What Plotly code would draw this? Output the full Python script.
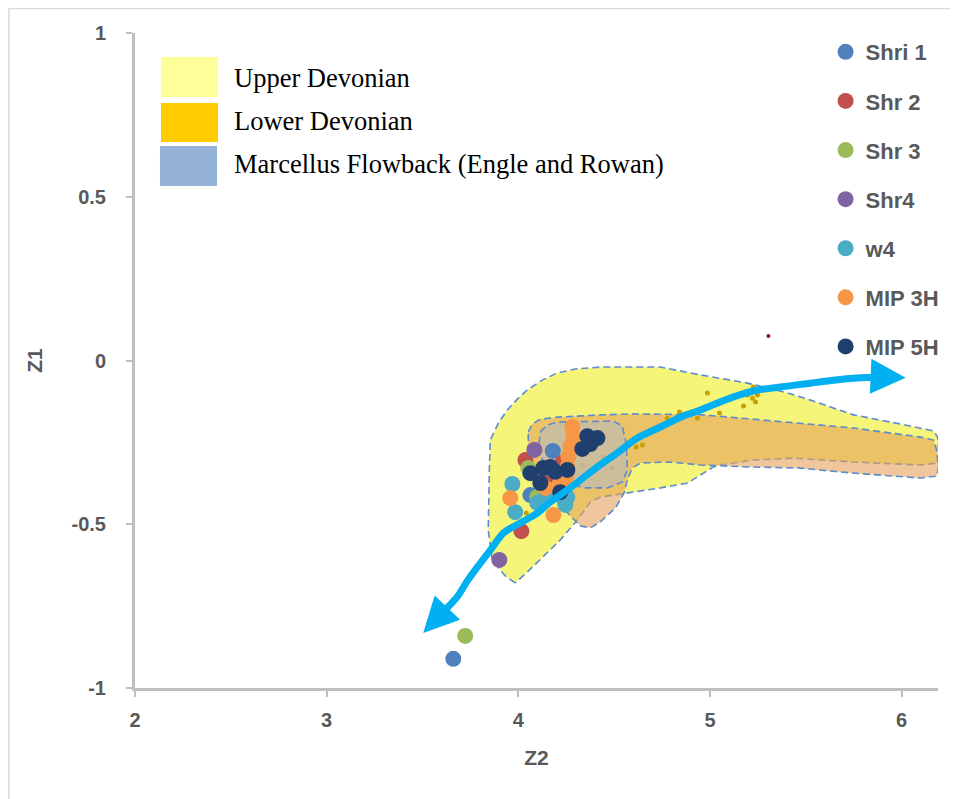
import plotly.graph_objects as go

# ---------------- data (Z2 = x, Z1 = y) ----------------
series_names = ["Shri 1", "Shr 2", "Shr 3", "Shr4", "w4", "MIP 3H", "MIP 5H"]
series_colors = ["#4F81BD", "#C0504D", "#9BBB59", "#8064A2", "#4BACC6", "#F79646", "#1F3F6E"]

shri1_x = [3.661, 4.180, 4.063]
shri1_y = [-0.911, -0.276, -0.411]
shr2_x = [4.016, 4.037, 4.230, 4.141]
shr2_y = [-0.521, -0.304, -0.313, -0.359]
shr3_x = [3.723, 4.052, 4.099]
shr3_y = [-0.841, -0.328, -0.417]
shr4_x = [3.901, 4.084]
shr4_y = [-0.609, -0.273]
w4_x = [3.969, 3.984, 4.099, 4.204, 4.256, 4.245, 4.141]
w4_y = [-0.377, -0.463, -0.435, -0.405, -0.417, -0.441, -0.417]
mip3h_x = [4.282, 4.287, 4.272, 4.261, 4.256, 4.251, 4.219, 4.183, 3.958, 4.141]
mip3h_y = [-0.203, -0.234, -0.264, -0.295, -0.325, -0.356, -0.371, -0.472, -0.420, -0.389]
mip5h_x = [4.360, 4.413, 4.334, 4.376, 4.167, 4.256, 4.063, 4.115, 4.219, 4.193, 4.131]
mip5h_y = [-0.231, -0.237, -0.270, -0.255, -0.325, -0.334, -0.344, -0.374, -0.402, -0.340, -0.328]

# small background samples
gold_x = [4.987, 4.841, 4.778, 4.935, 5.050, 5.175, 5.211, 5.227, 5.248, 5.222, 5.238, 5.196, 5.253, 4.616, 4.648, 4.042]
gold_y = [-0.099, -0.157, -0.176, -0.176, -0.160, -0.139, -0.096, -0.081, -0.105, -0.115, -0.127, -0.105, -0.090, -0.264, -0.258, -0.466]
grey_x = [4.334, 4.491, 4.444]
grey_y = [-0.319, -0.328, -0.295]
red_small_x = [5.305, 3.723]
red_small_y = [0.075, -0.689]

# field outlines
upper_dev_x = [3.984, 3.932, 3.864, 3.843, 3.849, 3.854, 3.896, 3.943, 4.000, 4.047, 4.125, 4.204, 4.298, 4.428,
               4.742, 4.950, 5.196, 5.405, 5.525, 5.749, 5.995, 6.167, 6.188, 6.193, 6.188, 6.099, 5.749, 5.436,
               5.227, 5.055, 5.018, 4.883, 4.742, 4.569, 4.428, 4.376, 4.308, 4.219, 4.115, 4.047, 3.984]
upper_dev_y = [-0.679, -0.658, -0.609, -0.518, -0.334, -0.243, -0.191, -0.151, -0.115, -0.090, -0.060, -0.038,
               -0.026, -0.020, -0.020, -0.044, -0.069, -0.099, -0.121, -0.166, -0.194, -0.215, -0.234, -0.273,
               -0.313, -0.319, -0.310, -0.298, -0.304, -0.319, -0.325, -0.374, -0.389, -0.405, -0.417, -0.432,
               -0.487, -0.548, -0.609, -0.646, -0.679]
lower_dev_x = [4.052, 4.073, 4.115, 4.204, 4.428, 4.601, 4.966, 5.405, 5.749, 6.099, 6.167, 6.183, 6.193, 6.183,
               6.099, 5.749, 5.457, 5.196, 5.018, 4.950, 4.794, 4.637, 4.595, 4.569, 4.554, 4.507, 4.428, 4.376,
               4.324, 4.282, 4.219, 4.141, 4.073, 4.052, 4.052]
lower_dev_y = [-0.218, -0.194, -0.179, -0.173, -0.166, -0.163, -0.166, -0.188, -0.206, -0.234, -0.243, -0.273,
               -0.328, -0.353, -0.359, -0.344, -0.328, -0.325, -0.322, -0.319, -0.310, -0.313, -0.328, -0.365,
               -0.402, -0.450, -0.493, -0.511, -0.505, -0.481, -0.441, -0.395, -0.334, -0.273, -0.218]
flowback_x = [4.115, 4.151, 4.204, 4.496, 4.543, 4.564, 4.569, 4.543, 4.465, 4.339, 4.245, 4.157, 4.104, 4.115]
flowback_y = [-0.218, -0.197, -0.188, -0.185, -0.200, -0.258, -0.334, -0.371, -0.389, -0.389, -0.371, -0.334,
              -0.279, -0.218]

# trend arrow
trend_x = [3.530, 3.608, 3.681, 3.734, 3.786, 3.854, 3.922, 4.010, 4.099, 4.167, 4.256, 4.324, 4.413, 4.517,
           4.621, 4.742, 4.846, 4.950, 5.123, 5.248, 5.368, 5.645, 5.786, 5.906, 5.960]
trend_y = [-0.811, -0.768, -0.722, -0.673, -0.631, -0.579, -0.527, -0.496, -0.466, -0.432, -0.395, -0.365,
           -0.325, -0.282, -0.237, -0.203, -0.173, -0.151, -0.111, -0.090, -0.081, -0.060, -0.053, -0.050, -0.052]
trend_start_tip = (3.504, -0.832)
trend_end_tip = (6.021, -0.053)

field_names = ["Upper Devonian", "Lower Devonian", "Marcellus Flowback (Engle and Rowan)"]
field_key_colors = ["#FFFF99", "#FFCC00", "#95B3D7"]

x_tickvals = [2, 3, 4, 5, 6]
x_ticktext = ["2", "3", "4", "5", "6"]
y_tickvals = [1, 0.5, 0, -0.5, -1]
y_ticktext = ["1", "0.5", "0", "-0.5", "-1"]

# ---------------- figure ----------------
GREY = "#595959"
AXIS = "#BFBFBF"
FONT = "Liberation Sans, Arial, sans-serif"
border_style = dict(color="#5B8BD0", width=1.6, dash="7px,4px")

fig = go.Figure()

fig.add_trace(go.Scatter(x=upper_dev_x, y=upper_dev_y, mode="lines", fill="toself",
                         fillcolor="rgb(245,245,122)", line=border_style,
                         showlegend=False, hoverinfo="skip"))
fig.add_trace(go.Scatter(x=lower_dev_x, y=lower_dev_y, mode="lines", fill="toself",
                         fillcolor="rgba(230,160,90,0.6)", line=border_style,
                         showlegend=False, hoverinfo="skip"))
fig.add_trace(go.Scatter(x=flowback_x, y=flowback_y, mode="lines", fill="toself",
                         fillcolor="rgba(180,188,198,0.55)", line=border_style,
                         showlegend=False, hoverinfo="skip"))

fig.add_trace(go.Scatter(x=gold_x, y=gold_y, mode="markers",
                         marker=dict(size=5, color="#C9A000"), showlegend=False, hoverinfo="skip"))
fig.add_trace(go.Scatter(x=grey_x, y=grey_y, mode="markers",
                         marker=dict(size=5, color="#C2B28A"), showlegend=False, hoverinfo="skip"))
fig.add_trace(go.Scatter(x=red_small_x, y=red_small_y, mode="markers",
                         marker=dict(size=4, color="#8B1A1A"), showlegend=False, hoverinfo="skip"))

series_x = [shri1_x, shr2_x, shr3_x, shr4_x, w4_x, mip3h_x, mip5h_x]
series_y = [shri1_y, shr2_y, shr3_y, shr4_y, w4_y, mip3h_y, mip5h_y]
for name, color, sx, sy in zip(series_names, series_colors, series_x, series_y):
    fig.add_trace(go.Scatter(x=sx, y=sy, mode="markers", name=name, legendgroup=name,
                             marker=dict(size=16, color=color)))

fig.add_trace(go.Scatter(x=trend_x, y=trend_y, mode="lines",
                         line=dict(color="#00B0F0", width=7, shape="spline", smoothing=0.8),
                         showlegend=False, hoverinfo="skip"))

# arrow heads at both ends of the trend
fig.add_annotation(x=trend_end_tip[0], y=trend_end_tip[1], ax=trend_x[-2], ay=trend_y[-2],
                   xref="x", yref="y", axref="x", ayref="y", text="", showarrow=True,
                   arrowhead=2, arrowsize=1.0, arrowwidth=7, arrowcolor="#00B0F0")
fig.add_annotation(x=trend_start_tip[0], y=trend_start_tip[1], ax=trend_x[1], ay=trend_y[1],
                   xref="x", yref="y", axref="x", ayref="y", text="", showarrow=True,
                   arrowhead=2, arrowsize=1.0, arrowwidth=7, arrowcolor="#00B0F0")

# field key (upper-left)
key_boxes = [(0.0324, 0.1034, 0.9023, 0.9634), (0.0324, 0.1034, 0.8336, 0.8931), (0.0311, 0.1021, 0.7664, 0.8275)]
key_text_y = [0.9313, 0.8656, 0.8000]
for (x0, x1, y0, y1), col, name, ty in zip(key_boxes, field_key_colors, field_names, key_text_y):
    fig.add_shape(type="rect", xref="paper", yref="paper", x0=x0, x1=x1, y0=y0, y1=y1,
                  fillcolor=col, line=dict(width=0))
    fig.add_annotation(xref="paper", yref="paper", x=0.1208, y=ty, xanchor="left", yanchor="middle",
                       text=name, showarrow=False,
                       font=dict(family="Liberation Serif, Times New Roman, serif", size=26.5, color="black"))

# outer frame lines (top and left)
fig.add_shape(type="line", xref="paper", yref="paper", x0=-0.157, x1=1.03, y0=1.0375, y1=1.0375,
              line=dict(color="#D9D9D9", width=1.5))
fig.add_shape(type="line", xref="paper", yref="paper", x0=-0.157, x1=-0.157, y0=-0.17, y1=1.0375,
              line=dict(color="#D9D9D9", width=1.5))

fig.update_layout(
    width=950, height=791,
    margin=dict(l=127, r=20, t=25, b=111),
    paper_bgcolor="white", plot_bgcolor="white",
    font=dict(family=FONT, color=GREY, size=21),
    showlegend=True,
    legend=dict(x=0.860, y=1.003, xanchor="left", yanchor="top", traceorder="grouped",
                tracegroupgap=17.5, bgcolor="rgba(0,0,0,0)",
                font=dict(family=FONT, size=22, color=GREY, weight="bold")),
    xaxis=dict(range=[2, 6.19], tickvals=x_tickvals, ticktext=x_ticktext,
               showgrid=False, zeroline=False, showline=True, linecolor=AXIS, linewidth=3,
               ticks="outside", ticklen=6, tickwidth=2, tickcolor=AXIS, ticklabelstandoff=6,
               tickfont=dict(family=FONT, size=20, color=GREY, weight="bold"),
               title=dict(text="Z2", standoff=21, font=dict(family=FONT, size=21, color=GREY, weight="bold"))),
    yaxis=dict(range=[-1, 1], tickvals=y_tickvals, ticktext=y_ticktext,
               showgrid=False, zeroline=False, showline=True, linecolor=AXIS, linewidth=3,
               ticks="outside", ticklen=6, tickwidth=2, tickcolor=AXIS, ticklabelstandoff=16,
               tickfont=dict(family=FONT, size=20, color=GREY, weight="bold"),
               title=dict(text="Z1", standoff=24, font=dict(family=FONT, size=21, color=GREY, weight="bold"))),
)

fig.write_html("out.html")
